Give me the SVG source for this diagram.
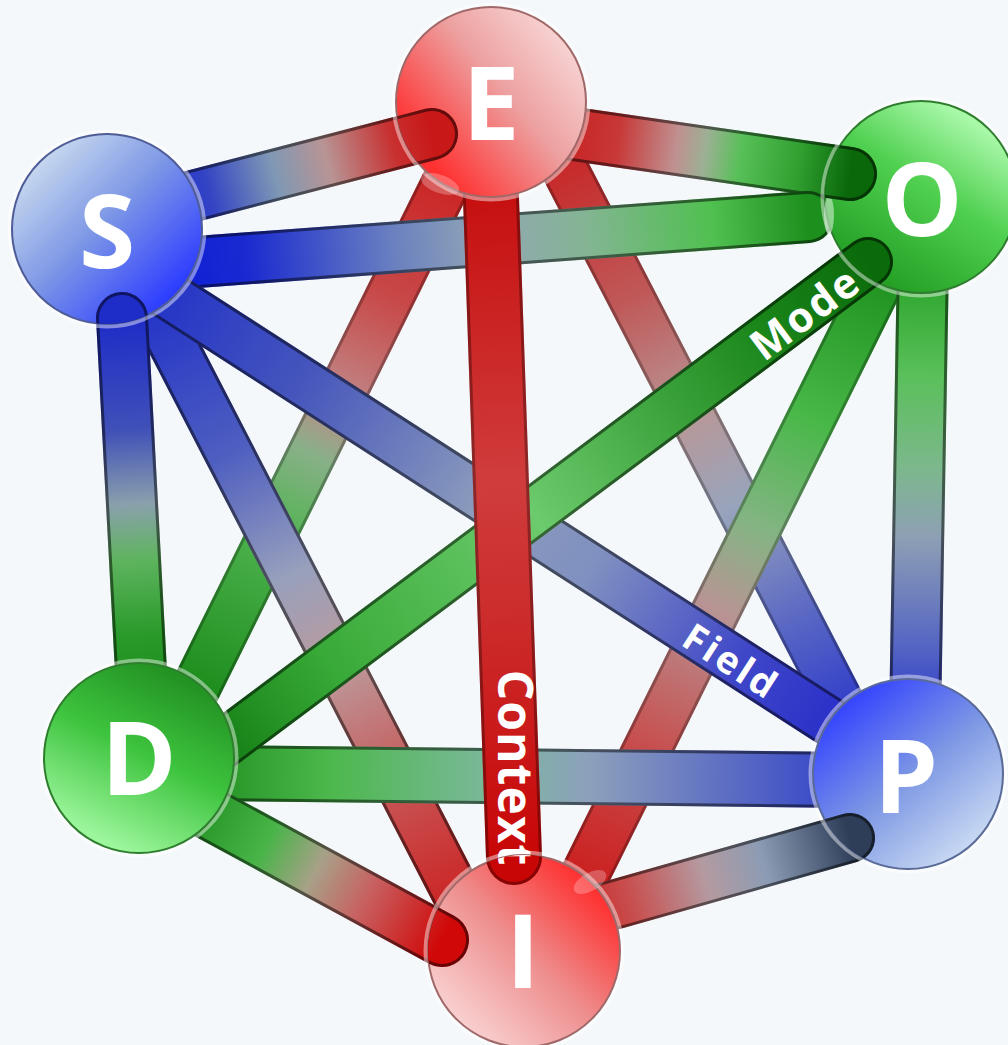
<svg xmlns="http://www.w3.org/2000/svg" width="1008" height="1045" viewBox="0 0 1008 1045">
<defs>
<style>
defs line{stroke-linecap:round}
.dk{stroke:#000;stroke-opacity:.5}
.bk .dk{stroke-opacity:.28}
.ctx .dk{stroke-opacity:.32}
.lbl{font-family:"Open Sans","DejaVu Sans",sans-serif;font-weight:700;fill:#fff}
.nl{font-size:102px;text-anchor:middle}
.el{text-anchor:middle}
.halo{fill:none;stroke:#fff;stroke-width:5;stroke-opacity:.45}
</style>
<!-- tube centre lines -->
<line id="lES" x1="170" y1="202" x2="432" y2="134"/>
<line id="lEO" x1="560" y1="132" x2="850" y2="174"/>
<line id="lSO" x1="170" y1="264" x2="808" y2="217"/>
<line id="lSD" x1="122" y1="318" x2="142" y2="690"/>
<line id="lSP" x1="160" y1="290" x2="880" y2="754"/>
<line id="lSI" x1="150" y1="300" x2="465" y2="910"/>
<line id="lED" x1="455" y1="165" x2="195" y2="690"/>
<line id="lEI" x1="490" y1="170" x2="514" y2="857"/>
<line id="lEP" x1="555" y1="150" x2="860" y2="740"/>
<line id="lOD" x1="868" y1="262" x2="195" y2="765"/>
<line id="lOP" x1="923" y1="260" x2="915" y2="720"/>
<line id="lOI" x1="890" y1="260" x2="575" y2="895"/>
<line id="lDP" x1="200" y1="773" x2="850" y2="780"/>
<line id="lDI" x1="190" y1="803" x2="442" y2="940"/>
<line id="lPI" x1="560" y1="920" x2="850" y2="838"/>

<!-- tube colour runs -->
<linearGradient id="gES" gradientUnits="userSpaceOnUse" x1="170" y1="202" x2="432" y2="134"><stop offset="0" stop-color="#2233d0"/><stop offset=".15" stop-color="#3444c4"/><stop offset=".4" stop-color="#7f98b4"/><stop offset=".6" stop-color="#b89494"/><stop offset=".85" stop-color="#c83030"/><stop offset="1" stop-color="#c81818"/></linearGradient>
<linearGradient id="gEO" gradientUnits="userSpaceOnUse" x1="560" y1="132" x2="850" y2="174"><stop offset="0" stop-color="#c82020"/><stop offset=".2" stop-color="#c83838"/><stop offset=".4" stop-color="#c09090"/><stop offset=".5" stop-color="#9cb094"/><stop offset=".62" stop-color="#58c058"/><stop offset=".82" stop-color="#30a030"/><stop offset="1" stop-color="#0a680a"/></linearGradient>
<linearGradient id="gSO" gradientUnits="userSpaceOnUse" x1="170" y1="264" x2="808" y2="217"><stop offset="0" stop-color="#0d1ed8"/><stop offset=".12" stop-color="#1a2ad0"/><stop offset=".35" stop-color="#6a80c0"/><stop offset=".5" stop-color="#92a8b4"/><stop offset=".65" stop-color="#84b494"/><stop offset=".85" stop-color="#50c050"/><stop offset="1" stop-color="#1d8f1d"/></linearGradient>
<linearGradient id="gSD" gradientUnits="userSpaceOnUse" x1="122" y1="318" x2="142" y2="690"><stop offset="0" stop-color="#1e2cc8"/><stop offset=".3" stop-color="#4050b8"/><stop offset=".5" stop-color="#8aa0ac"/><stop offset=".65" stop-color="#5eb45e"/><stop offset=".85" stop-color="#2a9a2a"/><stop offset="1" stop-color="#1c8c1c"/></linearGradient>
<linearGradient id="gSP" gradientUnits="userSpaceOnUse" x1="160" y1="290" x2="880" y2="754"><stop offset="0" stop-color="#2434c8"/><stop offset=".2" stop-color="#4656bc"/><stop offset=".45" stop-color="#8c9cbc"/><stop offset=".6" stop-color="#8090c0"/><stop offset=".8" stop-color="#4048c8"/><stop offset="1" stop-color="#2024c8"/></linearGradient>
<linearGradient id="gSI" gradientUnits="userSpaceOnUse" x1="150" y1="300" x2="465" y2="910"><stop offset="0" stop-color="#2232c8"/><stop offset=".25" stop-color="#4e5ec0"/><stop offset=".45" stop-color="#98a0bc"/><stop offset=".6" stop-color="#bc9a9c"/><stop offset=".8" stop-color="#c85454"/><stop offset="1" stop-color="#cc2020"/></linearGradient>
<linearGradient id="gED" gradientUnits="userSpaceOnUse" x1="455" y1="165" x2="195" y2="690"><stop offset="0" stop-color="#cc2020"/><stop offset=".25" stop-color="#c84848"/><stop offset=".45" stop-color="#c08888"/><stop offset=".55" stop-color="#88b088"/><stop offset=".7" stop-color="#50b450"/><stop offset="1" stop-color="#1c8c1c"/></linearGradient>
<linearGradient id="gEI" gradientUnits="userSpaceOnUse" x1="490" y1="170" x2="514" y2="857"><stop offset="0" stop-color="#c60c0c"/><stop offset=".45" stop-color="#d03c3c"/><stop offset=".65" stop-color="#cc2c2c"/><stop offset="1" stop-color="#c80606"/></linearGradient>
<linearGradient id="gEP" gradientUnits="userSpaceOnUse" x1="555" y1="150" x2="860" y2="740"><stop offset="0" stop-color="#c82424"/><stop offset=".25" stop-color="#c05858"/><stop offset=".45" stop-color="#b89898"/><stop offset=".6" stop-color="#98a4bc"/><stop offset=".8" stop-color="#5866c4"/><stop offset="1" stop-color="#2430cc"/></linearGradient>
<linearGradient id="gOD" gradientUnits="userSpaceOnUse" x1="868" y1="262" x2="195" y2="765"><stop offset="0" stop-color="#0b6b0b"/><stop offset=".15" stop-color="#1a861a"/><stop offset=".5" stop-color="#6ccb6c"/><stop offset=".8" stop-color="#38aa38"/><stop offset="1" stop-color="#0e760e"/></linearGradient>
<linearGradient id="gOP" gradientUnits="userSpaceOnUse" x1="923" y1="260" x2="915" y2="720"><stop offset="0" stop-color="#23a023"/><stop offset=".25" stop-color="#5ac05a"/><stop offset=".45" stop-color="#7cb88c"/><stop offset=".6" stop-color="#8ea0b4"/><stop offset=".85" stop-color="#5262c4"/><stop offset="1" stop-color="#2a36c8"/></linearGradient>
<linearGradient id="gOI" gradientUnits="userSpaceOnUse" x1="890" y1="260" x2="575" y2="895"><stop offset="0" stop-color="#1a8e1a"/><stop offset=".25" stop-color="#48b848"/><stop offset=".42" stop-color="#84b484"/><stop offset=".55" stop-color="#b89494"/><stop offset=".78" stop-color="#c84a4a"/><stop offset="1" stop-color="#cc1a1a"/></linearGradient>
<linearGradient id="gDP" gradientUnits="userSpaceOnUse" x1="200" y1="773" x2="850" y2="780"><stop offset="0" stop-color="#1f8f1f"/><stop offset=".2" stop-color="#4cb84c"/><stop offset=".45" stop-color="#7cb89c"/><stop offset=".6" stop-color="#8ca0bc"/><stop offset=".85" stop-color="#5464c4"/><stop offset="1" stop-color="#3040c8"/></linearGradient>
<linearGradient id="gDI" gradientUnits="userSpaceOnUse" x1="190" y1="803" x2="442" y2="940"><stop offset="0" stop-color="#1f8f1f"/><stop offset=".3" stop-color="#48b448"/><stop offset=".5" stop-color="#a8a088"/><stop offset=".7" stop-color="#c86060"/><stop offset="1" stop-color="#d00808"/></linearGradient>
<linearGradient id="gPI" gradientUnits="userSpaceOnUse" x1="560" y1="920" x2="850" y2="838"><stop offset="0" stop-color="#cc1818"/><stop offset=".25" stop-color="#c85050"/><stop offset=".5" stop-color="#b49aa0"/><stop offset=".7" stop-color="#8c9cb4"/><stop offset=".9" stop-color="#4e5e78"/><stop offset="1" stop-color="#2e3e58"/></linearGradient>

<!-- sphere shading -->
<linearGradient id="nE" x1=".88" y1=".12" x2=".12" y2=".75"><stop offset="0" stop-color="#f8d6d6"/><stop offset=".45" stop-color="#eda0a0"/><stop offset="1" stop-color="#ff3030"/></linearGradient>
<linearGradient id="nS" x1=".15" y1=".15" x2=".85" y2=".85"><stop offset="0" stop-color="#c4d6ee"/><stop offset=".45" stop-color="#7e98e6"/><stop offset="1" stop-color="#2c3cff"/></linearGradient>
<linearGradient id="nO" x1=".75" y1=".1" x2=".2" y2=".95"><stop offset="0" stop-color="#a8f8a8"/><stop offset=".4" stop-color="#50d050"/><stop offset="1" stop-color="#1f9a1f"/></linearGradient>
<linearGradient id="nD" x1=".8" y1=".05" x2=".35" y2=".95"><stop offset="0" stop-color="#1f8c1f"/><stop offset=".5" stop-color="#3ec43e"/><stop offset="1" stop-color="#9cf69c"/></linearGradient>
<linearGradient id="nP" x1=".15" y1=".1" x2=".85" y2=".95"><stop offset="0" stop-color="#3040ff"/><stop offset=".5" stop-color="#7e98e4"/><stop offset="1" stop-color="#d2e2f4"/></linearGradient>
<linearGradient id="nI" x1=".9" y1=".15" x2=".15" y2=".9"><stop offset="0" stop-color="#ff2828"/><stop offset=".5" stop-color="#ee8e8e"/><stop offset="1" stop-color="#f9d4d4"/></linearGradient>

<clipPath id="cE"><circle cx="491" cy="102" r="95"/></clipPath>
<clipPath id="cS"><circle cx="107" cy="229" r="95"/></clipPath>
<clipPath id="cO"><circle cx="921" cy="197" r="96"/></clipPath>
<clipPath id="cP"><circle cx="908" cy="774" r="95"/></clipPath>
<clipPath id="cI"><circle cx="524" cy="951" r="96"/></clipPath>
</defs>

<rect width="1008" height="1045" fill="#f4f8fb"/>

<g id="connectors">
  <g id="eEP" class="bk"><use href="#lEP" stroke="url(#gEP)" stroke-width="48"/><use href="#lEP" class="dk" stroke-width="48"/><use href="#lEP" stroke="url(#gEP)" stroke-width="42"/></g>
  <g id="eOI" class="bk"><use href="#lOI" stroke="url(#gOI)" stroke-width="50"/><use href="#lOI" class="dk" stroke-width="50"/><use href="#lOI" stroke="url(#gOI)" stroke-width="44"/></g>
  <g id="eED" class="bk"><use href="#lED" stroke="url(#gED)" stroke-width="50"/><use href="#lED" class="dk" stroke-width="50"/><use href="#lED" stroke="url(#gED)" stroke-width="44"/></g>
  <g id="eSI"><use href="#lSI" stroke="url(#gSI)" stroke-width="50"/><use href="#lSI" class="dk" stroke-width="50"/><use href="#lSI" stroke="url(#gSI)" stroke-width="44"/></g>
  <g id="eOP"><use href="#lOP" stroke="url(#gOP)" stroke-width="52"/><use href="#lOP" class="dk" stroke-width="52"/><use href="#lOP" stroke="url(#gOP)" stroke-width="46"/></g>
  <g id="eDP"><use href="#lDP" stroke="url(#gDP)" stroke-width="56"/><use href="#lDP" class="dk" stroke-width="56"/><use href="#lDP" stroke="url(#gDP)" stroke-width="50"/></g>
  <g id="eEO"><use href="#lEO" stroke="url(#gEO)" stroke-width="54"/><use href="#lEO" class="dk" stroke-width="54"/><use href="#lEO" stroke="url(#gEO)" stroke-width="48"/></g>
  <g id="eES"><use href="#lES" stroke="url(#gES)" stroke-width="52"/><use href="#lES" class="dk" stroke-width="52"/><use href="#lES" stroke="url(#gES)" stroke-width="46"/></g>
  <g id="eSO"><use href="#lSO" stroke="url(#gSO)" stroke-width="52"/><use href="#lSO" class="dk" stroke-width="52"/><use href="#lSO" stroke="url(#gSO)" stroke-width="46"/></g>
  <g id="eSD"><use href="#lSD" stroke="url(#gSD)" stroke-width="52"/><use href="#lSD" class="dk" stroke-width="52"/><use href="#lSD" stroke="url(#gSD)" stroke-width="46"/></g>
  <g id="eDI"><use href="#lDI" stroke="url(#gDI)" stroke-width="54"/><use href="#lDI" class="dk" stroke-width="54"/><use href="#lDI" stroke="url(#gDI)" stroke-width="48"/></g>
  <g id="ePI"><use href="#lPI" stroke="url(#gPI)" stroke-width="50"/><use href="#lPI" class="dk" stroke-width="50"/><use href="#lPI" stroke="url(#gPI)" stroke-width="44"/></g>
  <g id="eSP"><use href="#lSP" stroke="url(#gSP)" stroke-width="50"/><use href="#lSP" class="dk" stroke-width="50"/><use href="#lSP" stroke="url(#gSP)" stroke-width="44"/>
    <text class="lbl el" font-size="38" letter-spacing="3" transform="translate(731,662) rotate(32.8)" y="13">Field</text></g>
  <g id="eOD"><use href="#lOD" stroke="url(#gOD)" stroke-width="50"/><use href="#lOD" class="dk" stroke-width="50"/><use href="#lOD" stroke="url(#gOD)" stroke-width="44"/>
    <text class="lbl el" font-size="42" letter-spacing="2" transform="translate(805,313) rotate(-36.8)" y="15">Mode</text></g>
  <g id="eEI" class="ctx"><use href="#lEI" stroke="url(#gEI)" stroke-width="56"/><use href="#lEI" class="dk" stroke-width="56"/><use href="#lEI" stroke="url(#gEI)" stroke-width="50"/>
    <text class="lbl el" font-size="48" letter-spacing="1" transform="translate(498,768) rotate(90)">Context</text></g>
</g>

<g id="nodes">
  <g id="nodeE"><circle class="halo" cx="491" cy="102" r="97"/><circle cx="491" cy="102" r="95" fill="url(#nE)" stroke="#a06868" stroke-width="2"/><ellipse cx="440" cy="184" rx="20" ry="9" fill="#fff" opacity=".25" transform="rotate(20 440 184)"/><text class="lbl nl" x="491" y="140">E</text></g>
  <g id="nodeS"><circle class="halo" cx="107" cy="229" r="97"/><circle cx="107" cy="229" r="95" fill="url(#nS)" stroke="#4e5c98" stroke-width="2"/><text class="lbl nl" x="107" y="268">S</text></g>
  <g id="nodeO"><circle class="halo" cx="921" cy="197" r="98"/><circle cx="921" cy="197" r="96" fill="url(#nO)" stroke="#2e7e2e" stroke-width="2"/><ellipse cx="829" cy="215" rx="5" ry="19" fill="#e0f4e0" opacity=".55"/><text class="lbl nl" x="922" y="236">O</text></g>
  <g id="nodeD"><circle class="halo" cx="139" cy="758" r="97"/><circle cx="139" cy="758" r="95" fill="url(#nD)" stroke="#2e7e2e" stroke-width="2"/><text class="lbl nl" x="139" y="795">D</text></g>
  <g id="nodeP"><circle class="halo" cx="908" cy="774" r="97"/><circle cx="908" cy="774" r="95" fill="url(#nP)" stroke="#5a6a98" stroke-width="2"/><text class="lbl nl" x="906" y="813">P</text></g>
  <g id="nodeI"><circle class="halo" cx="524" cy="951" r="98"/><circle cx="524" cy="951" r="96" fill="url(#nI)" stroke="#a06868" stroke-width="2"/><ellipse cx="590" cy="882" rx="18" ry="9" fill="#fff" opacity=".25" transform="rotate(-30 590 882)"/><text class="lbl nl" x="523" y="988">I</text></g>
</g>

<!-- sticks that come out in front of a sphere -->
<g id="front-ends">
  <g clip-path="url(#cE)"><use href="#eES"/></g>
  <g clip-path="url(#cO)"><use href="#eEO"/></g>
  <g clip-path="url(#cS)"><use href="#eSD"/></g>
  <g clip-path="url(#cP)"><use href="#ePI"/></g>
  <g clip-path="url(#cI)"><use href="#eDI"/></g>
  <g clip-path="url(#cO)"><use href="#eOD"/></g>
  <g clip-path="url(#cI)"><use href="#eEI"/></g>
</g>
</svg>
